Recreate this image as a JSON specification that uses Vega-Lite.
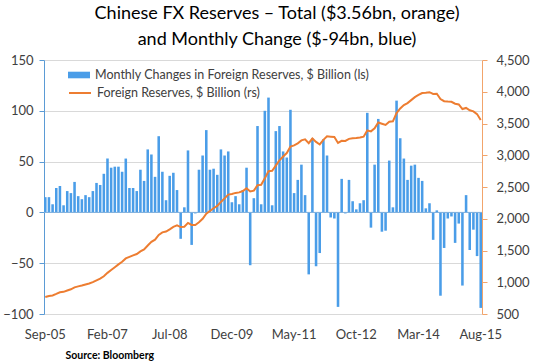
{
  "$schema": "https://vega.github.io/schema/vega-lite/v6.json",
  "width": 438,
  "height": 254,
  "autosize": "none",
  "padding": {"left": 44, "top": 60, "right": 57, "bottom": 49},
  "background": "white",
  "title": {
    "text": ["Chinese FX Reserves  – Total ($3.56bn, orange)", "and Monthly Change ($-94bn, blue)"],
    "font": "Lato",
    "fontSize": 18,
    "fontWeight": "normal",
    "color": "#000000",
    "lineHeight": 26,
    "anchor": "middle",
    "dx": 14,
    "offset": 5
  },
  "config": {
    "view": {"stroke": null},
    "font": "Lato",
    "axis": {"labelFont": "Lato", "labelFontSize": 13, "labelColor": "#404040"},
    "legend": {"labelFont": "Lato", "labelFontSize": 12.5, "labelColor": "#404040", "labelLimit": 400}
  },
  "data": {
    "values": [
      {"m": "Sep-05", "c": 15, "r": 769}, {"m": "Oct-05", "c": 15, "r": 784}, {"m": "Nov-05", "c": 8, "r": 792}, {"m": "Dec-05", "c": 24, "r": 816},
      {"m": "Jan-06", "c": 26, "r": 842}, {"m": "Feb-06", "c": 7, "r": 849}, {"m": "Mar-06", "c": 21, "r": 870}, {"m": "Apr-06", "c": 19, "r": 889},
      {"m": "May-06", "c": 30, "r": 919}, {"m": "Jun-06", "c": 16, "r": 935}, {"m": "Jul-06", "c": 13, "r": 948}, {"m": "Aug-06", "c": 17, "r": 965},
      {"m": "Sep-06", "c": 15, "r": 980}, {"m": "Oct-06", "c": 21, "r": 1001}, {"m": "Nov-06", "c": 29, "r": 1030}, {"m": "Dec-06", "c": 27, "r": 1057},
      {"m": "Jan-07", "c": 38, "r": 1095}, {"m": "Feb-07", "c": 53, "r": 1148}, {"m": "Mar-07", "c": 44, "r": 1192}, {"m": "Apr-07", "c": 45, "r": 1237},
      {"m": "May-07", "c": 45, "r": 1282}, {"m": "Jun-07", "c": 40, "r": 1322}, {"m": "Jul-07", "c": 53, "r": 1375}, {"m": "Aug-07", "c": 24, "r": 1399},
      {"m": "Sep-07", "c": 24, "r": 1423}, {"m": "Oct-07", "c": 21, "r": 1444}, {"m": "Nov-07", "c": 42, "r": 1486}, {"m": "Dec-07", "c": 31, "r": 1517},
      {"m": "Jan-08", "c": 62, "r": 1579}, {"m": "Feb-08", "c": 57, "r": 1636}, {"m": "Mar-08", "c": 35, "r": 1671}, {"m": "Apr-08", "c": 75, "r": 1746},
      {"m": "May-08", "c": 40, "r": 1786}, {"m": "Jun-08", "c": 12, "r": 1798}, {"m": "Jul-08", "c": 36, "r": 1834}, {"m": "Aug-08", "c": 39, "r": 1873},
      {"m": "Sep-08", "c": 22, "r": 1895}, {"m": "Oct-08", "c": -26, "r": 1869}, {"m": "Nov-08", "c": 5, "r": 1874}, {"m": "Dec-08", "c": 61, "r": 1935},
      {"m": "Jan-09", "c": -32, "r": 1903}, {"m": "Feb-09", "c": -1, "r": 1902}, {"m": "Mar-09", "c": 42, "r": 1944}, {"m": "Apr-09", "c": 56, "r": 2000},
      {"m": "May-09", "c": 81, "r": 2081}, {"m": "Jun-09", "c": 42, "r": 2123}, {"m": "Jul-09", "c": 43, "r": 2166}, {"m": "Aug-09", "c": 37, "r": 2203},
      {"m": "Sep-09", "c": 62, "r": 2265}, {"m": "Oct-09", "c": 56, "r": 2321}, {"m": "Nov-09", "c": 60, "r": 2381}, {"m": "Dec-09", "c": 10, "r": 2391},
      {"m": "Jan-10", "c": 16, "r": 2407}, {"m": "Feb-10", "c": 8, "r": 2415}, {"m": "Mar-10", "c": 22, "r": 2437}, {"m": "Apr-10", "c": 44, "r": 2481},
      {"m": "May-10", "c": -52, "r": 2429}, {"m": "Jun-10", "c": 14, "r": 2443}, {"m": "Jul-10", "c": 85, "r": 2528}, {"m": "Aug-10", "c": 8, "r": 2536},
      {"m": "Sep-10", "c": 100, "r": 2636}, {"m": "Oct-10", "c": 113, "r": 2749}, {"m": "Nov-10", "c": 7, "r": 2756}, {"m": "Dec-10", "c": 80, "r": 2836},
      {"m": "Jan-11", "c": 85, "r": 2921}, {"m": "Feb-11", "c": 60, "r": 2981}, {"m": "Mar-11", "c": 54, "r": 3035}, {"m": "Apr-11", "c": 101, "r": 3136},
      {"m": "May-11", "c": 19, "r": 3155}, {"m": "Jun-11", "c": 32, "r": 3187}, {"m": "Jul-11", "c": 47, "r": 3234}, {"m": "Aug-11", "c": 17, "r": 3251},
      {"m": "Sep-11", "c": -61, "r": 3190}, {"m": "Oct-11", "c": 73, "r": 3263}, {"m": "Nov-11", "c": -53, "r": 3210}, {"m": "Dec-11", "c": -40, "r": 3170},
      {"m": "Jan-12", "c": 72, "r": 3242}, {"m": "Feb-12", "c": 56, "r": 3298}, {"m": "Mar-12", "c": -5, "r": 3293}, {"m": "Apr-12", "c": -6, "r": 3287},
      {"m": "May-12", "c": -93, "r": 3194}, {"m": "Jun-12", "c": 33, "r": 3227}, {"m": "Jul-12", "c": -1, "r": 3226}, {"m": "Aug-12", "c": 32, "r": 3258},
      {"m": "Sep-12", "c": 11, "r": 3269}, {"m": "Oct-12", "c": 3, "r": 3272}, {"m": "Nov-12", "c": 9, "r": 3281}, {"m": "Dec-12", "c": 12, "r": 3293},
      {"m": "Jan-13", "c": 98, "r": 3391}, {"m": "Feb-13", "c": -15, "r": 3376}, {"m": "Mar-13", "c": 47, "r": 3423}, {"m": "Apr-13", "c": 92, "r": 3515},
      {"m": "May-13", "c": -19, "r": 3496}, {"m": "Jun-13", "c": -18, "r": 3478}, {"m": "Jul-13", "c": 51, "r": 3529}, {"m": "Aug-13", "c": 5, "r": 3534},
      {"m": "Sep-13", "c": 110, "r": 3664}, {"m": "Oct-13", "c": 73, "r": 3737}, {"m": "Nov-13", "c": 53, "r": 3790}, {"m": "Dec-13", "c": 32, "r": 3822},
      {"m": "Jan-14", "c": 46, "r": 3868}, {"m": "Feb-14", "c": 47, "r": 3915}, {"m": "Mar-14", "c": 34, "r": 3949}, {"m": "Apr-14", "c": 31, "r": 3980},
      {"m": "May-14", "c": 4, "r": 3984}, {"m": "Jun-14", "c": 9, "r": 3993}, {"m": "Jul-14", "c": -27, "r": 3966}, {"m": "Aug-14", "c": 2, "r": 3968},
      {"m": "Sep-14", "c": -82, "r": 3886}, {"m": "Oct-14", "c": -35, "r": 3851}, {"m": "Nov-14", "c": -6, "r": 3845}, {"m": "Dec-14", "c": -4, "r": 3841},
      {"m": "Jan-15", "c": -30, "r": 3811}, {"m": "Feb-15", "c": -11, "r": 3800}, {"m": "Mar-15", "c": -72, "r": 3728}, {"m": "Apr-15", "c": 17, "r": 3745},
      {"m": "May-15", "c": -37, "r": 3708}, {"m": "Jun-15", "c": -17, "r": 3691}, {"m": "Jul-15", "c": -43, "r": 3648}, {"m": "Aug-15", "c": -94, "r": 3554}
    ]
  },
  "layer": [
    {
      "layer": [
        {
          "mark": {"type": "bar"},
          "encoding": {
            "x": {
              "field": "m", "type": "ordinal", "sort": null,
              "scale": {"paddingInner": 0.3, "paddingOuter": 0},
              "axis": {
                "values": ["Sep-05", "Feb-07", "Jul-08", "Dec-09", "May-11", "Oct-12", "Mar-14", "Aug-15"],
                "labelAngle": 0, "ticks": false, "domain": false, "labelPadding": 14,
                "title": "Source: Bloomberg", "titleFont": "Lato", "titleFontSize": 10.5, "titleFontWeight": "bold",
                "titleColor": "#000000", "titleAnchor": "start", "titleAlign": "left", "titleBaseline": "middle",
                "titleX": 21, "titleY": 41
              }
            },
            "y": {
              "field": "c", "type": "quantitative",
              "scale": {"domain": [-100, 150], "nice": false, "zero": true},
              "axis": {
                "orient": "left", "values": [-100, -50, 0, 50, 100, 150], "grid": true, "gridColor": "#D9D9D9",
                "domainColor": "#5B9BD5", "tickColor": "#5B9BD5", "tickSize": 5, "labelPadding": 6, "title": null
              }
            },
            "fill": {
              "datum": "Monthly Changes in Foreign Reserves, $ Billion (ls)",
              "scale": {"range": ["#4A9DE8"]},
              "legend": {
                "orient": "none", "legendX": 24, "legendY": 4, "title": null, "padding": 0,
                "symbolType": "M-1,-0.3H1V0.3H-1Z", "symbolSize": 484, "symbolStrokeWidth": 0, "labelOffset": 5
              }
            }
          }
        },
        {
          "data": {"values": [{"z": 0}]},
          "mark": {"type": "rule", "color": "#7FB0DE", "strokeWidth": 1},
          "encoding": {"y": {"field": "z", "type": "quantitative"}}
        }
      ]
    },
    {
      "mark": {"type": "line", "strokeWidth": 2},
      "encoding": {
        "x": {"field": "m", "type": "ordinal", "sort": null},
        "y": {
          "field": "r", "type": "quantitative",
          "scale": {"domain": [500, 4500], "nice": false, "zero": false},
          "axis": {
            "orient": "right", "values": [500, 1000, 1500, 2000, 2500, 3000, 3500, 4000, 4500], "format": ",.0f",
            "grid": false, "domainColor": "#F2A46B", "tickColor": "#F2A46B", "tickSize": 5, "labelPadding": 9, "title": null
          }
        },
        "stroke": {
          "datum": "Foreign Reserves, $ Billion (rs)",
          "scale": {"range": ["#ED7D31"]},
          "legend": {
            "orient": "none", "legendX": 24, "legendY": 21, "title": null, "padding": 0,
            "symbolType": "stroke", "symbolSize": 484, "symbolStrokeWidth": 2, "labelOffset": 5
          }
        }
      }
    }
  ],
  "resolve": {"scale": {"y": "independent"}, "axis": {"y": "independent"}}
}
